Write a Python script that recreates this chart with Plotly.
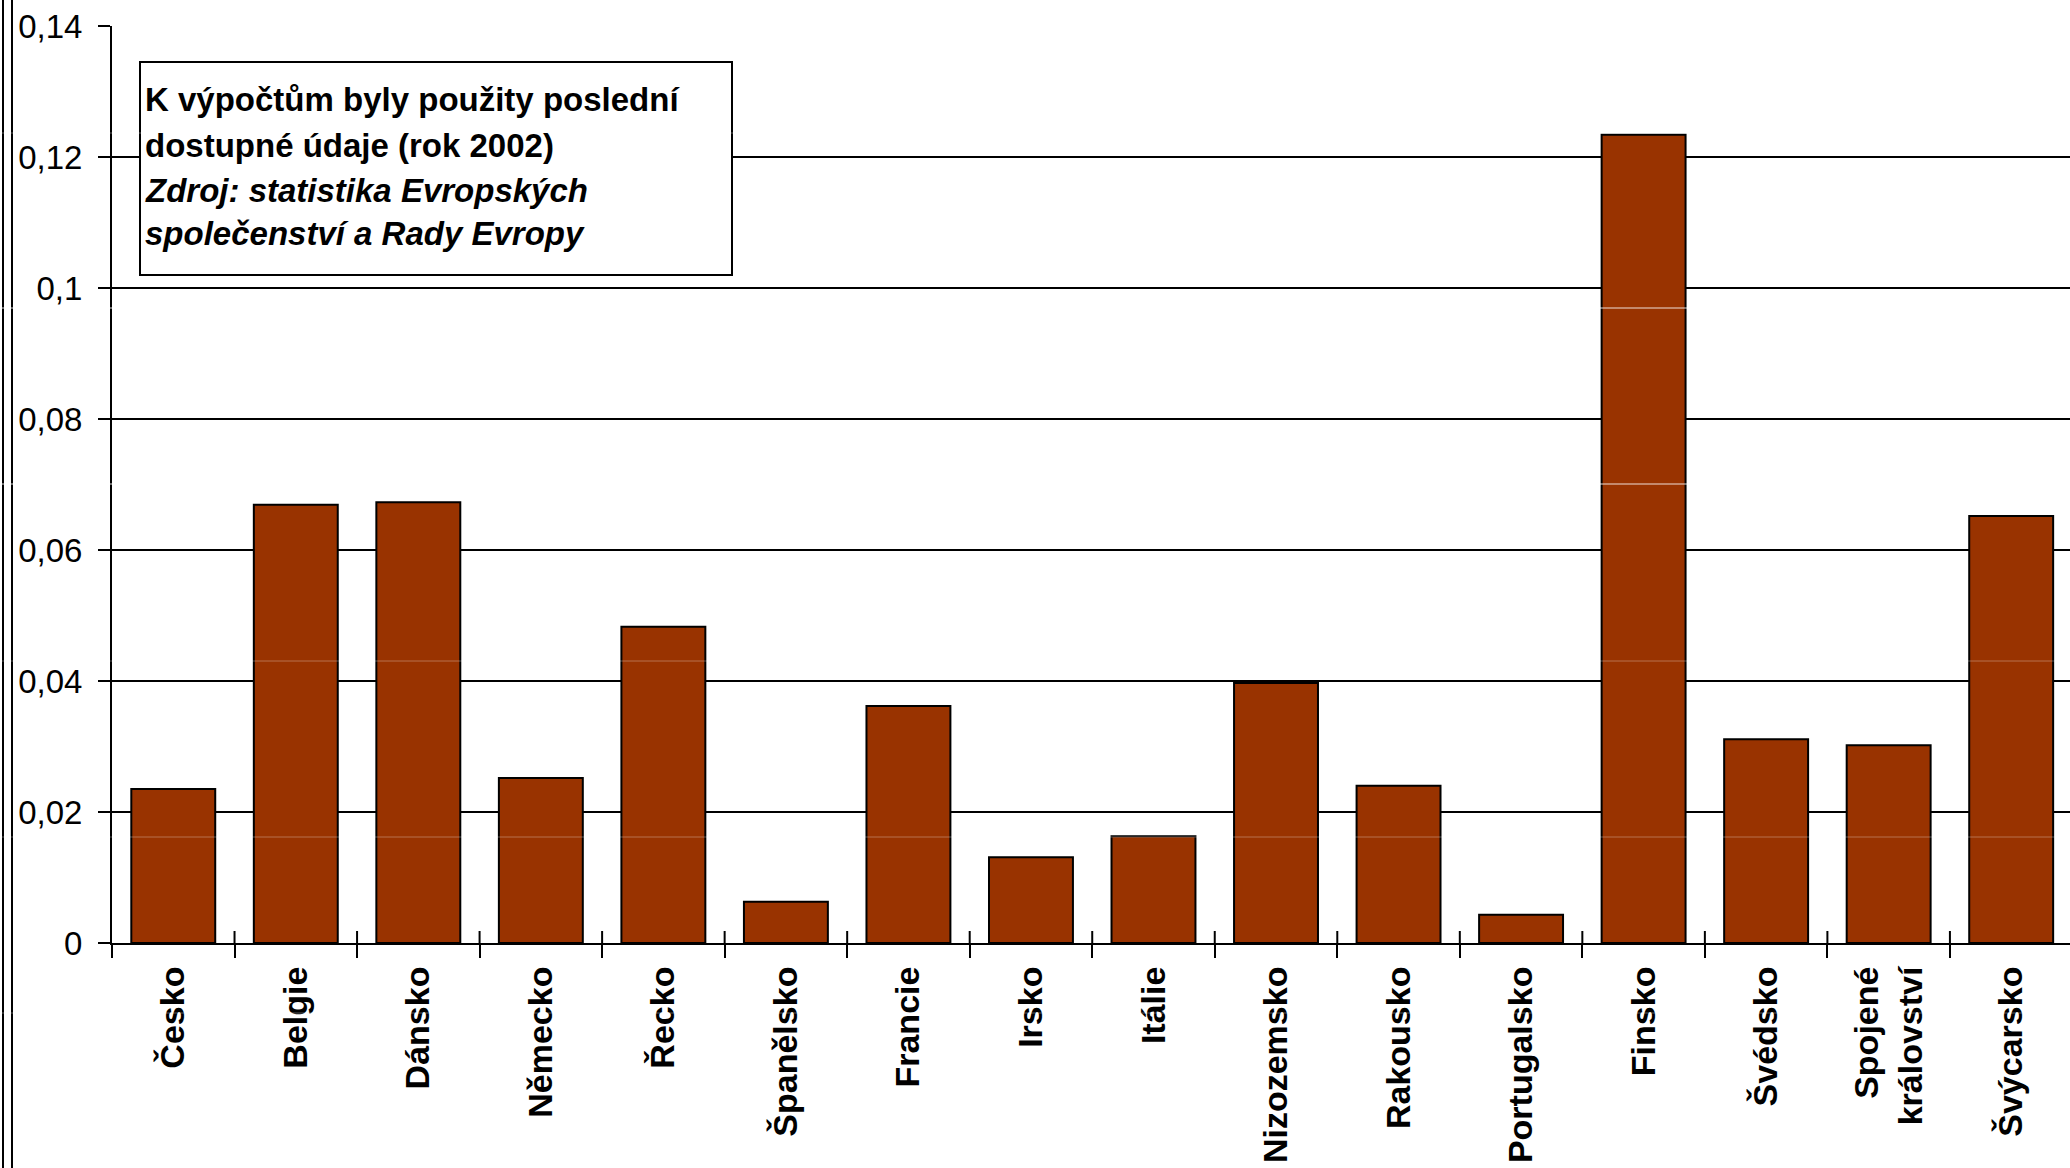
import plotly.graph_objects as go

categories = ["Česko", "Belgie", "Dánsko", "Německo", "Řecko", "Španělsko", "Francie",
              "Irsko", "Itálie", "Nizozemsko", "Rakousko", "Portugalsko", "Finsko",
              "Švédsko", "Spojené<br>království", "Švýcarsko"]
values = [0.0235, 0.0669, 0.0673, 0.0252, 0.0483, 0.0063, 0.0362,
          0.0131, 0.0163, 0.0397, 0.0240, 0.0043, 0.1234,
          0.0311, 0.0302, 0.0652]
y_ticks = [0, 0.02, 0.04, 0.06, 0.08, 0.1, 0.12, 0.14]
note_lines = ["K výpočtům byly použity poslední",
              "dostupné údaje (rok 2002)",
              "Zdroj: statistika Evropských",
              "společenství a Rady Evropy"]
note_italic = [False, False, True, True]

W, H = 2070, 1168
L, R, T, B = 112, 0, 26, 225
PW, PH = W - L - R, H - T - B


def px_x(px):
    return (px - L) / PW


def px_y(py):
    return (H - B - py) / PH


FONT = "Liberation Sans, Arial, Helvetica, sans-serif"

fig = go.Figure()
fig.add_trace(go.Bar(
    x=categories, y=values,
    marker=dict(color="#993300", line=dict(color="black", width=2)),
    showlegend=False, hoverinfo="skip",
))

shapes = []
# inner halves of the x-axis tick marks (ticks cross the axis line)
for i in range(1, len(categories)):
    shapes.append(dict(type="line", xref="x", yref="paper",
                       x0=i - 0.5, x1=i - 0.5, y0=0, y1=12 / PH,
                       line=dict(color="black", width=2), layer="above"))
# frame lines at left edge
for xp in (3, 12):
    shapes.append(dict(type="line", xref="paper", yref="paper",
                       x0=px_x(xp), x1=px_x(xp), y0=px_y(H), y1=px_y(0),
                       line=dict(color="black", width=2), layer="above"))
# note box
shapes.append(dict(type="rect", xref="paper", yref="paper",
                   x0=px_x(140), x1=px_x(732), y0=px_y(275), y1=px_y(62),
                   line=dict(color="black", width=2), fillcolor="white",
                   layer="above"))
# faint scan seams
for sy, op in ((133, 0.35), (308, 0.85), (484, 0.85), (661, 0.3), (837, 0.3), (1013, 0.35)):
    shapes.append(dict(type="line", xref="paper", yref="paper",
                       x0=px_x(0), x1=px_x(W), y0=px_y(sy), y1=px_y(sy),
                       line=dict(color="white", width=1), opacity=op,
                       layer="above"))

annotations = []
line_centers = [100, 145, 190, 234]
for txt, it, cy in zip(note_lines, note_italic, line_centers):
    annotations.append(dict(
        xref="paper", yref="paper", x=px_x(144), y=px_y(cy),
        xanchor="left", yanchor="middle", showarrow=False,
        text=(f"<i>{txt}</i>" if it else txt),
        font=dict(family=FONT, size=33, color="black", weight="bold"),
        borderpad=0,
    ))

fig.update_layout(
    width=W, height=H,
    margin=dict(l=L, r=R, t=T, b=B, pad=0),
    paper_bgcolor="white", plot_bgcolor="white",
    separators=", ",
    bargap=0.315,
    font=dict(family=FONT, color="black"),
    shapes=shapes,
    annotations=annotations,
    xaxis=dict(
        type="category", range=[-0.5, len(categories) - 0.52],
        showline=True, linecolor="black", linewidth=2,
        ticks="outside", tickson="boundaries", ticklen=13, tickwidth=2,
        tickcolor="black", tickangle=-90, showgrid=False,
        tickfont=dict(family=FONT, size=34, color="black", weight="bold"),
        ticklabelstandoff=8,
    ),
    yaxis=dict(
        range=[0, 0.14], tickvals=y_ticks,
        showgrid=True, gridcolor="black", gridwidth=2,
        showline=True, linecolor="black", linewidth=2,
        ticks="outside", ticklen=12, tickwidth=2, tickcolor="black",
        zeroline=False,
        tickfont=dict(family=FONT, size=33, color="black"),
        ticklabelstandoff=9,
    ),
)

fig.write_html(
    "out.html",
    config={"displayModeBar": False, "staticPlot": True},
    post_script="document.body.style.margin='0';document.body.style.overflow='hidden';",
)
